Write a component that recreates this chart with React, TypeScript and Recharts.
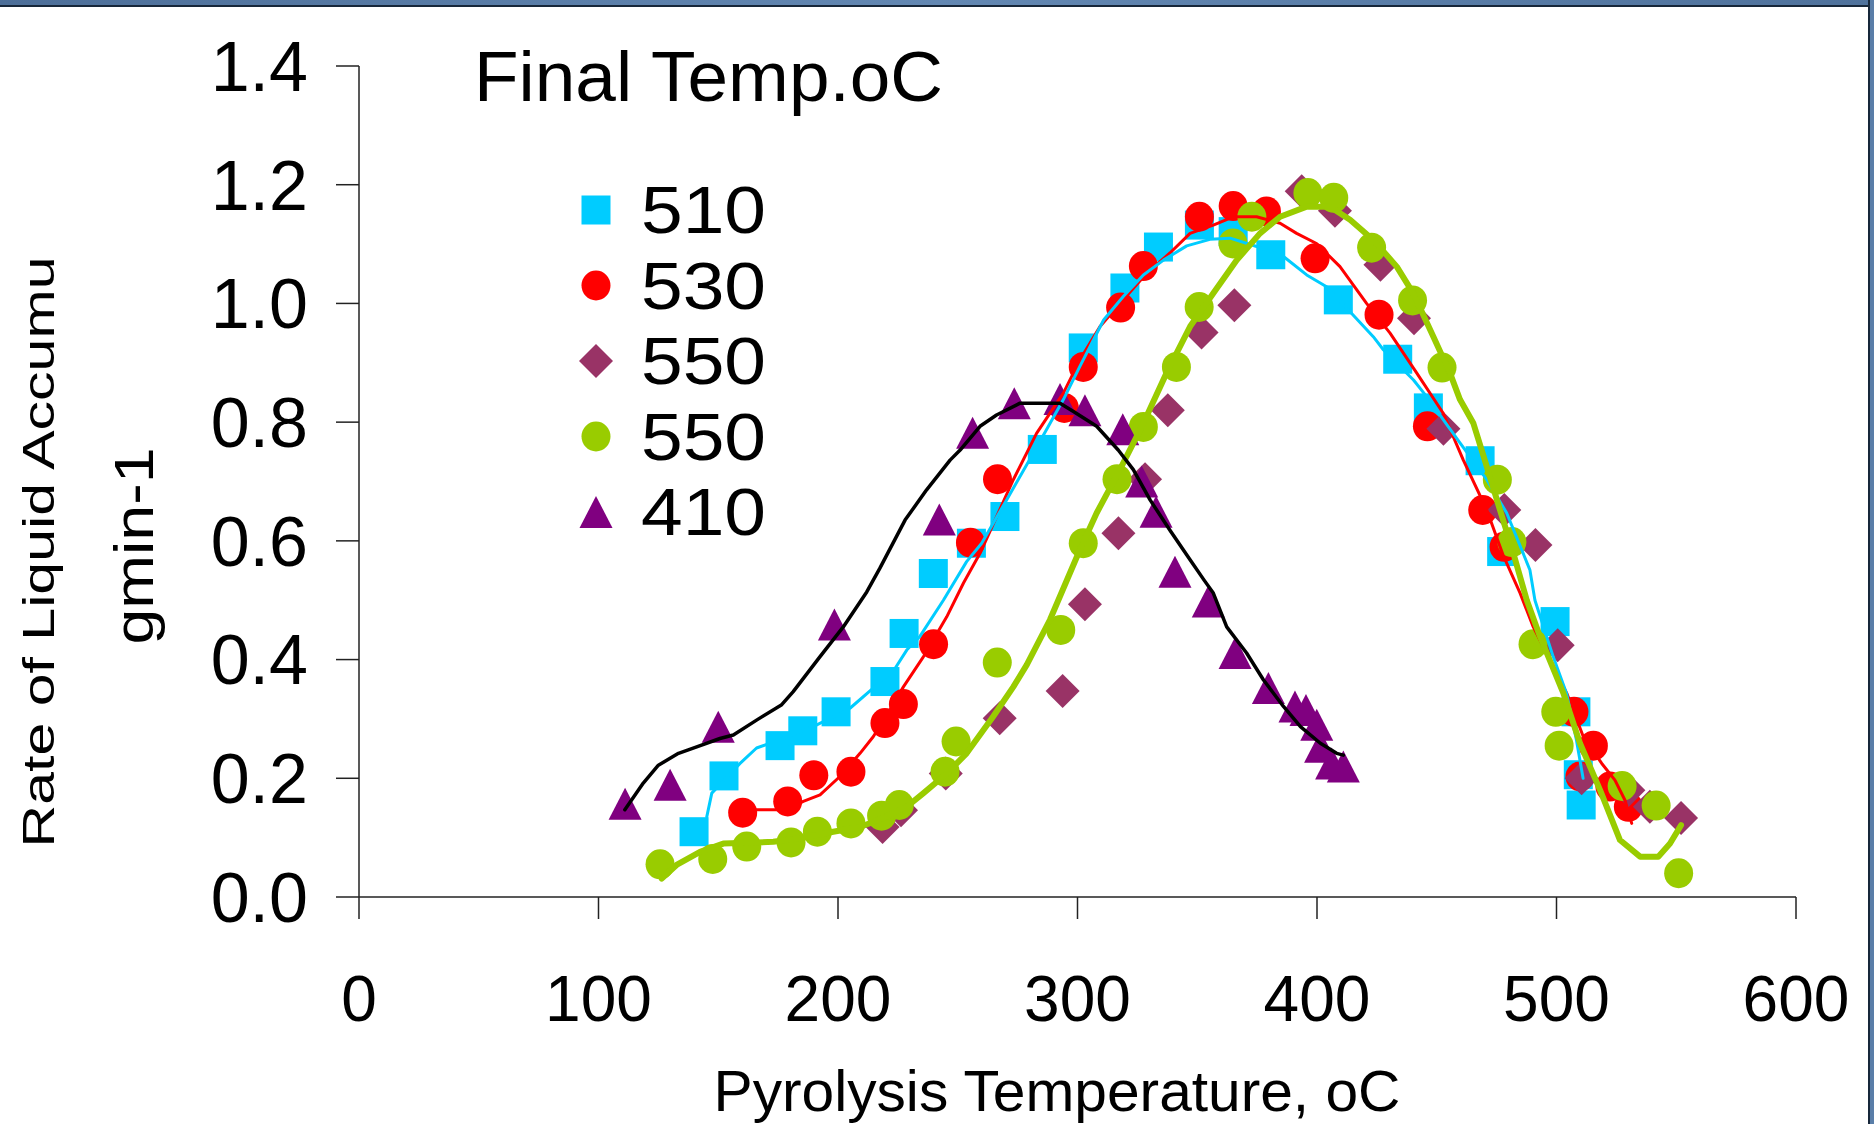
import React from 'react';
import { ScatterChart, Scatter, XAxis, YAxis, Legend } from 'recharts';

const FONT = '"Liberation Sans", Arial, sans-serif';

const xTicks = [0, 100, 200, 300, 400, 500, 600];
const yTicks = [0, 0.2, 0.4, 0.6, 0.8, 1.0, 1.2, 1.4];

const legendTitle = 'Final Temp.oC';
const xTitle = 'Pyrolysis Temperature, oC';
const yTitleMain = 'Rate of Liquid Accumu';
const yTitleUnit = 'gmin-1';

const seriesNames = ['510', '530', '550', '550', '410'];

// measured points: [temperature oC, rate]
const pts510 = [
  [139.9, 0.11], [152.4, 0.204], [175.8, 0.255], [185.3, 0.28], [199.2, 0.312], [219.6, 0.363],
  [227.6, 0.444], [239.8, 0.545], [255.7, 0.596], [269.7, 0.641], [285.3, 0.754], [302.4, 0.925],
  [319.8, 1.026], [333.8, 1.095], [350.9, 1.132], [365, 1.121], [380.7, 1.082], [408.9, 1.006],
  [433.7, 0.906], [446.5, 0.824], [468.1, 0.735], [477.1, 0.582], [499.4, 0.464], [508.1, 0.312],
  [509.1, 0.206], [510.3, 0.155],
];
const pts530 = [
  [160.2, 0.142], [179, 0.161], [189.9, 0.205], [205.4, 0.211], [219.6, 0.293], [227.3, 0.325],
  [239.9, 0.426], [255.3, 0.597], [266.6, 0.704], [294.5, 0.824], [302.4, 0.893], [318, 0.993],
  [327.5, 1.063], [350.9, 1.146], [365, 1.164], [378.9, 1.155], [399.2, 1.076], [425.9, 0.981],
  [446.1, 0.793], [469.2, 0.652], [478.1, 0.59], [507.3, 0.312], [509.8, 0.203], [515.4, 0.255],
  [522.3, 0.186], [530, 0.152],
];
const pts550a = [
  [218.6, 0.118], [226.3, 0.146], [245, 0.208], [267.5, 0.301], [293.8, 0.347], [303.1, 0.493],
  [317.1, 0.613], [328.2, 0.704], [337.7, 0.82], [351.8, 0.951], [365.5, 0.997], [393.6, 1.189],
  [407.5, 1.156], [426.5, 1.065], [440.5, 0.975], [452.8, 0.789], [478.2, 0.652], [491.2, 0.593],
  [500.5, 0.424], [510.5, 0.2], [530, 0.18], [539, 0.152], [552, 0.133],
];
const pts550b = [
  [125.7, 0.055], [147.7, 0.064], [161.9, 0.085], [180.4, 0.092], [191.4, 0.11], [205.4, 0.124],
  [218.2, 0.137], [225.6, 0.155], [244.7, 0.211], [249.3, 0.262], [266.5, 0.395], [293, 0.45],
  [302.4, 0.596], [316.5, 0.704], [327.5, 0.792], [341.3, 0.893], [350.8, 0.994], [364.9, 1.101],
  [372.8, 1.146], [396.2, 1.186], [407, 1.178], [422.8, 1.094], [439.9, 1.005], [452.2, 0.892],
  [475.3, 0.703], [481.4, 0.598], [490.2, 0.426], [499.7, 0.312], [501.1, 0.255], [527.4, 0.187],
  [541.6, 0.154], [551, 0.04],
];
const pts410 = [
  [111.1, 0.157], [129.9, 0.189], [150, 0.287], [198.5, 0.459], [242.3, 0.636], [256.2, 0.782],
  [273.6, 0.832], [292.7, 0.839], [303.1, 0.82], [318.9, 0.788], [326.8, 0.7], [332.8, 0.649],
  [340.7, 0.548], [354.6, 0.498], [365.8, 0.411], [379.7, 0.352], [390.8, 0.321], [395.4, 0.315],
  [399.9, 0.29], [401.5, 0.253], [406.1, 0.225], [411, 0.22],
];

// traced fitted curves
const fit510 = [
  [145.2, 0.135], [147.3, 0.175], [159.1, 0.225], [166, 0.251], [175.8, 0.265], [189.7, 0.287],
  [205, 0.318], [214.7, 0.352], [223.8, 0.385], [228.7, 0.416], [234.2, 0.439], [244, 0.5],
  [253.7, 0.565], [260, 0.596], [270.4, 0.669], [281.6, 0.748], [294.1, 0.838], [301, 0.894],
  [310.9, 0.972], [319.2, 1.012], [327.5, 1.048], [335.9, 1.073], [345.6, 1.097], [355.3, 1.108],
  [363.7, 1.11], [374.8, 1.096], [386, 1.079], [395.7, 1.048], [404, 1.028], [413.8, 0.986],
  [423.5, 0.944], [427.7, 0.922], [440.3, 0.871], [445.8, 0.843], [459.7, 0.765], [470.9, 0.703],
  [479.2, 0.647], [488.9, 0.551], [491, 0.5], [498.6, 0.405], [504.2, 0.343], [508.3, 0.265],
  [511.1, 0.2],
];
const fit530 = [
  [160.2, 0.147], [178.6, 0.147], [185.5, 0.161], [192.5, 0.172], [200.8, 0.203], [209.2, 0.242],
  [214.7, 0.27], [221.7, 0.315], [227.3, 0.354], [235.7, 0.405], [245.4, 0.472], [252.4, 0.529],
  [259.3, 0.579], [273.2, 0.703], [282.9, 0.781], [294.1, 0.849], [301, 0.905], [309.4, 0.961],
  [317.7, 1.0], [328.9, 1.051], [338.6, 1.085], [347, 1.118], [356.7, 1.132], [365, 1.146],
  [374.8, 1.146], [384.6, 1.135], [391.5, 1.118], [399.8, 1.101], [409.6, 1.062], [420.7, 1.0],
  [430.5, 0.95], [441.6, 0.883], [452.7, 0.815], [461.1, 0.736], [470.9, 0.652], [477.8, 0.575],
  [484.8, 0.512], [490.3, 0.455], [498.7, 0.388], [504.3, 0.343], [511.2, 0.27], [518.9, 0.225],
  [524.4, 0.197], [528.6, 0.163], [531.4, 0.124],
];
const fit550 = [
  [126.4, 0.031], [132.6, 0.054], [142.4, 0.076], [152.1, 0.09], [173, 0.093], [184.1, 0.099],
  [198, 0.11], [209.2, 0.118], [218.9, 0.133], [228.7, 0.152], [235.7, 0.175], [245.4, 0.208],
  [253.7, 0.242], [264.8, 0.304], [273.2, 0.354], [278.8, 0.391], [288.5, 0.467], [301, 0.585],
  [308, 0.647], [317.7, 0.72], [327.5, 0.798], [337.2, 0.883], [347, 0.961], [356.7, 1.017],
  [366.5, 1.073], [376.2, 1.118], [384.6, 1.146], [395.7, 1.163], [405.4, 1.163], [413.8, 1.141],
  [423.5, 1.107], [433.3, 1.062], [440.2, 1.017], [448.6, 0.944], [455.5, 0.883], [459.7, 0.838],
  [465.3, 0.798], [470.9, 0.725], [476.4, 0.652], [482, 0.579], [487.6, 0.5], [493.1, 0.439],
  [502.9, 0.343], [509.8, 0.259], [518.2, 0.18], [526.5, 0.096], [534.9, 0.068], [542.5, 0.068],
  [547.4, 0.09], [552, 0.121],
];
const fit410 = [
  [111, 0.147], [118.7, 0.192], [125, 0.222], [133.4, 0.242], [141, 0.253], [150.7, 0.267],
  [156.3, 0.273], [166, 0.298], [176.5, 0.324], [181.3, 0.346], [192.5, 0.405], [202.2, 0.455],
  [212, 0.514], [217.5, 0.554], [228, 0.635], [237, 0.686], [246.8, 0.736], [251, 0.753],
  [259.3, 0.793], [266.2, 0.812], [276, 0.832], [292.7, 0.832], [298.3, 0.818], [308, 0.793],
  [317, 0.753], [323.3, 0.72], [330.3, 0.669], [338.6, 0.618], [347, 0.568], [353, 0.533],
  [356.7, 0.512], [362.3, 0.455], [370.6, 0.411], [377.6, 0.366], [386, 0.321], [393.1, 0.287],
  [401.4, 0.259], [408.2, 0.242], [411, 0.239],
];

const toXY = (arr: number[][]) => arr.map(([x, y]) => ({ x, y }));

type Kind = 'square' | 'circle' | 'diamond' | 'triangle';

const markerSeries: { name: string; pts: number[][]; kind: Kind; color: string }[] = [
  { name: seriesNames[0], pts: pts510, kind: 'square', color: '#00CCFF' },
  { name: seriesNames[1], pts: pts530, kind: 'circle', color: '#FF0000' },
  { name: seriesNames[2], pts: pts550a, kind: 'diamond', color: '#993366' },
  { name: seriesNames[3], pts: pts550b, kind: 'circle', color: '#99CC00' },
  { name: seriesNames[4], pts: pts410, kind: 'triangle', color: '#800080' },
];

const lineSeries = [
  { id: 'fit530', pts: fit530, color: '#FF0000', width: 3 },
  { id: 'fit510', pts: fit510, color: '#00CCFF', width: 3 },
  { id: 'fit550', pts: fit550, color: '#99CC00', width: 6 },
  { id: 'fit410', pts: fit410, color: '#000000', width: 3.5 },
];

const drawMarker = (kind: Kind, cx: number, cy: number, color: string, key?: string) => {
  if (kind === 'square') {
    return <rect key={key} x={cx - 14.5} y={cy - 14.5} width={29} height={29} fill={color} />;
  }
  if (kind === 'circle') {
    return <ellipse key={key} cx={cx} cy={cy} rx={14.5} ry={15} fill={color} />;
  }
  if (kind === 'diamond') {
    return (
      <path key={key} d={`M${cx},${cy - 17}L${cx + 17},${cy}L${cx},${cy + 17}L${cx - 17},${cy}Z`} fill={color} />
    );
  }
  return <path key={key} d={`M${cx},${cy - 16}L${cx + 16.5},${cy + 16}L${cx - 16.5},${cy + 16}Z`} fill={color} />;
};

const renderLegend = () => (
  <svg width={440} height={540} style={{ overflow: 'visible' }}>
    <text x={14} y={71} fontFamily={FONT} fontSize={71} textLength={469} lengthAdjust="spacingAndGlyphs">
      {legendTitle}
    </text>
    {markerSeries.map((s, i) => {
      const cy = 180 + i * 75.5;
      return (
        <g key={i}>
          {drawMarker(s.kind, 136, cy, s.color)}
          <text x={181} y={cy + 23} fontFamily={FONT} fontSize={67} textLength={125} lengthAdjust="spacingAndGlyphs">
            {s.name}
          </text>
        </g>
      );
    })}
  </svg>
);

const renderXTick = (props: any) => {
  const { x, y, payload } = props;
  return (
    <text x={x} y={y} dy="0.71em" textAnchor="middle" fontFamily={FONT} fontSize={64} fill="#000">
      {payload.value}
    </text>
  );
};

const renderYTick = (props: any) => {
  const { x, y, payload } = props;
  return (
    <text x={x} y={y} dy="0.355em" textAnchor="end" fontFamily={FONT} fontSize={70} fill="#000">
      {Number(payload.value).toFixed(1)}
    </text>
  );
};

const renderXTitle = () => (
  <text x={1057} y={1111} textAnchor="middle" fontFamily={FONT} fontSize={58} textLength={687} lengthAdjust="spacingAndGlyphs">
    {xTitle}
  </text>
);

const renderYTitle = () => (
  <g>
    <text
      transform="translate(53.5,552) rotate(-90)"
      textAnchor="middle"
      fontFamily={FONT}
      fontSize={45}
      textLength={591}
      lengthAdjust="spacingAndGlyphs"
    >
      {yTitleMain}
    </text>
    <text
      transform="translate(153,546) rotate(-90)"
      textAnchor="middle"
      fontFamily={FONT}
      fontSize={55}
      textLength={197}
      lengthAdjust="spacingAndGlyphs"
    >
      {yTitleUnit}
    </text>
  </g>
);

const noShape = () => <g />;

export default function App() {
  return (
    <div style={{ position: 'absolute', left: 0, top: 0, width: 1874, height: 1124, background: '#fff', overflow: 'hidden' }}>
      <div style={{ position: 'absolute', left: 0, top: 0, width: 1874, height: 5, background: 'linear-gradient(90deg,#4d6f99,#6388b3,#4f729c)', borderBottom: '2px solid #17273a' }} />
      <div style={{ position: 'absolute', right: 4, top: 0, width: 2, height: 1124, background: '#17273a' }} />
      <div style={{ position: 'absolute', right: 0, top: 0, width: 4, height: 1124, background: '#5a7ea8' }} />
      <ScatterChart width={1874} height={1124} margin={{ top: 66, right: 78, bottom: 77, left: 209 }}>
        <XAxis
          type="number"
          dataKey="x"
          domain={[0, 600]}
          ticks={xTicks}
          interval={0}
          height={150}
          tickSize={22}
          tickMargin={57}
          tick={renderXTick}
          stroke="#222"
          strokeWidth={1.5}
          allowDataOverflow
          label={renderXTitle}
        />
        <YAxis
          type="number"
          dataKey="y"
          domain={[0, 1.4]}
          ticks={yTicks}
          interval={0}
          width={150}
          tickSize={23}
          tickMargin={28}
          tick={renderYTick}
          stroke="#222"
          strokeWidth={1.5}
          allowDataOverflow
          label={renderYTitle}
        />
        <Legend
          layout="vertical"
          align="center"
          verticalAlign="middle"
          content={renderLegend}
          wrapperStyle={{ position: 'absolute', left: 460, top: 30, width: 440, height: 540 }}
        />
        {markerSeries.map((s, i) => (
          <Scatter
            key={'m' + i}
            name={s.name}
            data={toXY(s.pts)}
            fill={s.color}
            isAnimationActive={false}
            shape={(p: any) => drawMarker(s.kind, p.cx, p.cy, s.color)}
          />
        ))}
        {lineSeries.map((l) => (
          <Scatter
            key={l.id}
            name={l.id}
            data={toXY(l.pts)}
            legendType="none"
            isAnimationActive={false}
            line={{ stroke: l.color, strokeWidth: l.width, strokeLinejoin: 'round', strokeLinecap: 'round' }}
            lineType="joint"
            shape={noShape}
          />
        ))}
      </ScatterChart>
    </div>
  );
}
